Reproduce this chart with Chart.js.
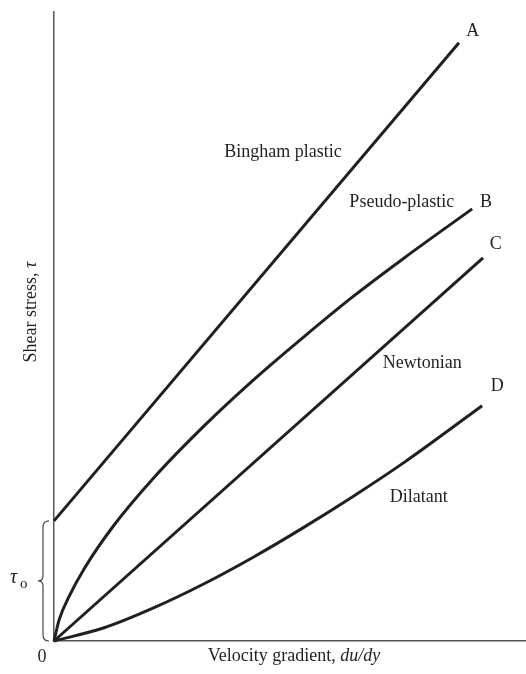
<!DOCTYPE html>
<html>
<head>
<meta charset="utf-8">
<script src="https://cdn.jsdelivr.net/npm/chart.js@4/dist/chart.umd.min.js"></script>
<style>
  html, body { margin: 0; padding: 0; background: #fff; }
  #wrap { width: 526px; height: 674px; position: relative; }
</style>
</head>
<body>
<div id="wrap"><canvas id="flowChart"></canvas></div>
<script>
// curves (velocity gradient -> shear stress, arbitrary units 0..10)
const binghamX = [0, 8.58];
const binghamY = [1.91, 9.51];
const pseudoX = [0, 0.11, 0.32, 0.64, 1.27, 2.12, 3.18, 4.24, 5.30, 6.36, 7.42, 8.86];
const pseudoY = [0, 0.34, 0.71, 1.15, 1.84, 2.60, 3.42, 4.16, 4.84, 5.49, 6.09, 6.87];
const newtonX = [0, 9.09];
const newtonY = [0, 6.09];
const dilatX = [0, 1.06, 2.12, 3.18, 4.24, 5.30, 6.36, 7.42, 9.07];
const dilatY = [0, 0.21, 0.53, 0.91, 1.34, 1.81, 2.31, 2.84, 3.74];

// curve labels (text, x, y in data units)
const labelText = ['A', 'Bingham plastic', 'Pseudo-plastic', 'B', 'C', 'Newtonian', 'D', 'Dilatant'];
const labelX = [8.87, 4.85, 7.37, 9.15, 9.36, 7.80, 9.39, 7.73];
const labelY = [9.69, 7.77, 6.98, 6.98, 6.30, 4.42, 4.05, 2.29];

const yieldStress = binghamY[0];
const FONT = '"Liberation Serif", "DejaVu Serif", serif';
const INK = '#231f20';

function toPoints(xs, ys) { return xs.map((x, i) => ({ x: x, y: ys[i] })); }

function curve(xs, ys) {
    return {
        data: toPoints(xs, ys),
        borderColor: INK,
        borderWidth: 3,
        pointRadius: 0,
        fill: false,
        cubicInterpolationMode: 'monotone',
        clip: false
    };
}

// mixed roman + italic text, centred on cx
function mixedText(ctx, parts, cx, cy) {
    const widths = parts.map(p => { ctx.font = p[1]; return ctx.measureText(p[0]).width; });
    let x = cx - widths.reduce((a, b) => a + b, 0) / 2;
    ctx.textAlign = 'left';
    parts.forEach((p, i) => { ctx.font = p[1]; ctx.fillText(p[0], x, cy); x += widths[i]; });
}

// text, brace and axis titles
const decorPlugin = {
    id: 'decor',
    afterDatasetsDraw(chart) {
        const ctx = chart.ctx;
        const xs = chart.scales.x, ys = chart.scales.y;
        const area = chart.chartArea;
        ctx.save();
        ctx.fillStyle = INK;
        ctx.textAlign = 'center';
        ctx.textBaseline = 'middle';
        ctx.font = '18px ' + FONT;
        labelText.forEach((t, i) => {
            ctx.fillText(t, xs.getPixelForValue(labelX[i]), ys.getPixelForValue(labelY[i]));
        });

        // origin
        ctx.font = '18px ' + FONT;
        ctx.fillText('0', area.left - 12, area.bottom + 16);

        // x title
        mixedText(ctx, [['Velocity gradient, ', '18px ' + FONT], ['du/dy', 'italic 18px ' + FONT]], 294, area.bottom + 15);

        // y title
        ctx.save();
        ctx.translate(31, 312);
        ctx.rotate(-Math.PI / 2);
        mixedText(ctx, [['Shear stress, ', '18px ' + FONT], ['τ', 'italic 18px ' + FONT]], 0, 0);
        ctx.restore();

        // brace for tau_o
        const top = ys.getPixelForValue(yieldStress);
        const bot = ys.getPixelForValue(0);
        const mid = (top + bot) / 2;
        const bx = area.left - 11;
        ctx.strokeStyle = '#444';
        ctx.lineWidth = 1.2;
        ctx.beginPath();
        ctx.moveTo(bx + 6, top);
        ctx.quadraticCurveTo(bx, top, bx, top + 6);
        ctx.lineTo(bx, mid - 5);
        ctx.quadraticCurveTo(bx, mid, bx - 5, mid);
        ctx.quadraticCurveTo(bx, mid, bx, mid + 5);
        ctx.lineTo(bx, bot - 6);
        ctx.quadraticCurveTo(bx, bot, bx + 6, bot);
        ctx.stroke();

        ctx.textAlign = 'left';
        ctx.font = 'italic 20px ' + FONT;
        ctx.fillText('τ', 10, mid - 3);
        ctx.font = '15px ' + FONT;
        ctx.fillText('o', 20, mid + 3);
        ctx.restore();
    }
};

new Chart(document.getElementById('flowChart'), {
    type: 'line',
    data: {
        datasets: [
            curve(binghamX, binghamY),
            curve(pseudoX, pseudoY),
            curve(newtonX, newtonY),
            curve(dilatX, dilatY)
        ]
    },
    options: {
        responsive: true,
        maintainAspectRatio: false,
        animation: false,
        layout: { padding: { left: 54, right: 0, top: 12, bottom: 33 } },
        plugins: { legend: { display: false }, tooltip: { enabled: false } },
        scales: {
            x: {
                type: 'linear', min: 0, max: 10,
                grid: { display: false, drawTicks: false },
                ticks: { display: false },
                border: { display: true, color: '#555', width: 1.5 }
            },
            y: {
                type: 'linear', min: 0, max: 10,
                grid: { display: false, drawTicks: false },
                ticks: { display: false },
                border: { display: true, color: '#555', width: 1.5 }
            }
        }
    },
    plugins: [decorPlugin]
});
</script>
</body>
</html>
